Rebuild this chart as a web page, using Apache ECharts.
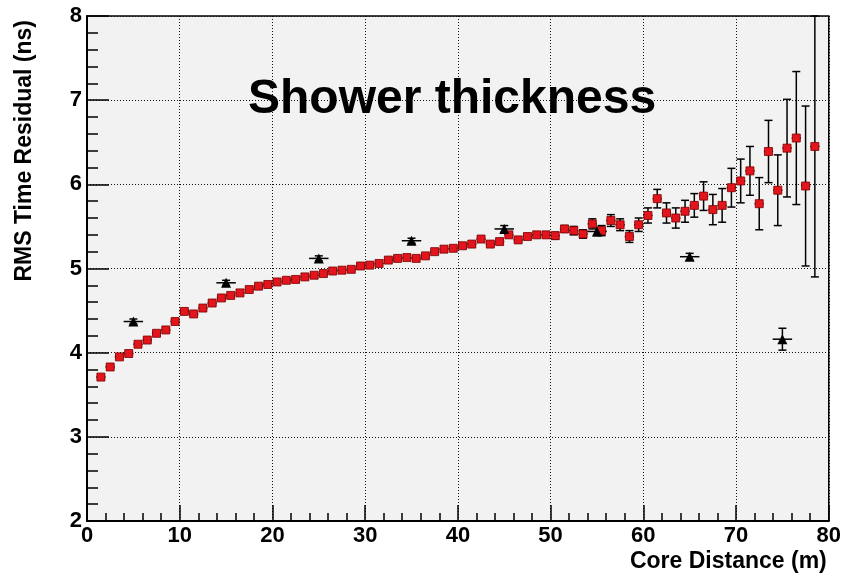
<!DOCTYPE html>
<html>
<head>
<meta charset="utf-8">
<script src="https://cdn.jsdelivr.net/npm/echarts@6/dist/echarts.min.js"></script>
<style>
html,body{margin:0;padding:0;background:#fff;}
#chart{width:844px;height:574px;}
</style>
</head>
<body>
<div id="chart"></div>
<script>
// Red series: core distance bin centres (m), RMS residual (ns), error (ns)
var redX = [1.5,2.5,3.5,4.5,5.5,6.5,7.5,8.5,9.5,10.5,11.5,12.5,13.5,14.5,15.5,16.5,17.5,18.5,19.5,20.5,
            21.5,22.5,23.5,24.5,25.5,26.5,27.5,28.5,29.5,30.5,31.5,32.5,33.5,34.5,35.5,36.5,37.5,38.5,39.5,40.5,
            41.5,42.5,43.5,44.5,45.5,46.5,47.5,48.5,49.5,50.5,51.5,52.5,53.5,54.5,55.5,56.5,57.5,58.5,59.5,60.5,
            61.5,62.5,63.5,64.5,65.5,66.5,67.5,68.5,69.5,70.5,71.5,72.5,73.5,74.5,75.5,76.5,77.5,78.5];
var redY = [3.71,3.83,3.95,3.99,4.10,4.15,4.23,4.27,4.37,4.49,4.46,4.53,4.59,4.65,4.68,4.71,4.75,4.79,4.81,4.84,
            4.86,4.87,4.90,4.92,4.94,4.97,4.98,4.99,5.03,5.04,5.06,5.10,5.12,5.13,5.12,5.15,5.20,5.23,5.24,5.27,
            5.29,5.35,5.29,5.32,5.40,5.34,5.38,5.40,5.40,5.39,5.47,5.45,5.41,5.53,5.45,5.57,5.52,5.38,5.52,5.63,
            5.83,5.66,5.60,5.68,5.75,5.86,5.70,5.75,5.96,6.04,6.16,5.77,6.39,5.93,6.43,6.55,5.98,6.45];
var redErr = [0.02,0.02,0.02,0.02,0.02,0.02,0.02,0.02,0.02,0.02,0.02,0.02,0.02,0.02,0.02,0.02,0.02,0.02,0.02,0.025,
              0.025,0.025,0.025,0.025,0.025,0.025,0.025,0.025,0.025,0.025,0.025,0.025,0.025,0.025,0.025,0.025,0.025,0.025,0.025,0.03,
              0.03,0.03,0.03,0.03,0.03,0.03,0.03,0.03,0.03,0.04,0.04,0.05,0.05,0.06,0.06,0.07,0.07,0.07,0.08,0.09,
              0.11,0.12,0.12,0.13,0.14,0.17,0.18,0.20,0.23,0.26,0.29,0.31,0.37,0.42,0.58,0.79,0.95,1.55];
var redXErr = 0.5;

// Black triangle series
var triX = [5,15,25,35,45,55,65,75];
var triY = [4.37,4.83,5.12,5.33,5.47,5.44,5.14,4.16];
var triErr = [0.03,0.03,0.03,0.03,0.04,0.05,0.04,0.13];
var triXErr = 1.05;

// Axis ticks
var xTicks = {min:0, max:80, interval:10};
var yTicks = {min:2, max:8, interval:1};

var titleText = 'Shower thickness';
var xName = 'Core Distance (m)';
var yName = 'RMS Time Residual (ns)';

var FONT = '"Liberation Sans", Arial, Helvetica, sans-serif';

function build(xs, ys, es, xe) {
  return xs.map(function (x, i) { return [x, ys[i], es[i], xe]; });
}
var redData = build(redX, redY, redErr, redXErr);
var triData = build(triX, triY, triErr, triXErr);

function errRender(params, api) {
  var x = api.value(0), y = api.value(1), e = api.value(2), xe = api.value(3);
  var yTop = Math.min(y + e, yTicks.max);
  var c = api.coord([x, y]);
  var t = api.coord([x, yTop]);
  var b = api.coord([x, y - e]);
  var l = api.coord([x - xe, y]);
  var r = api.coord([x + xe, y]);
  var st = {stroke: '#000', lineWidth: 1.5};
  var cap = 4;
  var children = [
    {type: 'line', shape: {x1: l[0], y1: c[1], x2: r[0], y2: c[1]}, style: st},
    {type: 'line', shape: {x1: c[0], y1: t[1], x2: c[0], y2: b[1]}, style: st},
    {type: 'line', shape: {x1: c[0] - cap, y1: b[1], x2: c[0] + cap, y2: b[1]}, style: st}
  ];
  if (y + e <= yTicks.max) {
    children.push({type: 'line', shape: {x1: c[0] - cap, y1: t[1], x2: c[0] + cap, y2: t[1]}, style: st});
  }
  return {type: 'group', children: children};
}

var chart = echarts.init(document.getElementById('chart'), null, {renderer: 'canvas'});
chart.setOption({
  animation: false,
  backgroundColor: '#ffffff',
  grid: {
    left: 87, right: 13, top: 16, bottom: 53,
    show: true, backgroundColor: '#f2f2f2', borderColor: '#000', borderWidth: 1.5
  },
  graphic: [{
    type: 'text', left: 248, top: 76, z: 10,
    style: {text: titleText, font: 'bold 48px ' + FONT, fill: '#000'}
  }],
  xAxis: {
    type: 'value', min: xTicks.min, max: xTicks.max, interval: xTicks.interval,
    name: xName, nameLocation: 'end', nameGap: -2,
    nameTextStyle: {align: 'right', verticalAlign: 'top', padding: [29, 0, 0, 0],
      fontFamily: FONT, fontWeight: 'bold', fontSize: 23, color: '#000'},
    axisLine: {show: true, lineStyle: {color: '#000', width: 2}},
    axisTick: {show: true, inside: true, length: 16, lineStyle: {color: '#000', width: 1.5}},
    minorTick: {show: true, splitNumber: 5, length: 8, lineStyle: {color: '#000', width: 1.5}},
    axisLabel: {margin: 4, fontFamily: FONT, fontWeight: 'bold', fontSize: 22, color: '#000'},
    splitLine: {show: true, lineStyle: {color: '#111', width: 1, type: [1, 2]}}
  },
  yAxis: {
    type: 'value', min: yTicks.min, max: yTicks.max, interval: yTicks.interval,
    name: yName, nameLocation: 'end', nameRotate: 90, nameGap: -4,
    nameTextStyle: {align: 'right', verticalAlign: 'bottom', padding: [0, 0, 51, 0],
      fontFamily: FONT, fontWeight: 'bold', fontSize: 23, color: '#000'},
    axisLine: {show: true, lineStyle: {color: '#000', width: 2}},
    axisTick: {show: true, inside: true, length: 22, lineStyle: {color: '#000', width: 1.5}},
    minorTick: {show: true, splitNumber: 5, length: 11, lineStyle: {color: '#000', width: 1.5}},
    axisLabel: {margin: 5, fontFamily: FONT, fontWeight: 'bold', fontSize: 22, color: '#000'},
    splitLine: {show: true, lineStyle: {color: '#111', width: 1, type: [1, 2]}}
  },
  series: [
    {type: 'custom', name: 'redErr', renderItem: errRender, data: redData, z: 2,
     encode: {x: 0, y: 1}},
    {type: 'custom', name: 'triErr', renderItem: errRender, data: triData, z: 2,
     encode: {x: 0, y: 1}},
    {type: 'scatter', name: 'red', data: redData, symbol: 'rect', symbolSize: 8, z: 3,
     itemStyle: {color: '#e3141b', borderColor: '#7a0000', borderWidth: 0.8, opacity: 1}},
    {type: 'scatter', name: 'tri', data: triData, symbol: 'triangle', symbolSize: 10, z: 3,
     itemStyle: {color: '#000', opacity: 1}}
  ]
});
</script>
</body>
</html>
